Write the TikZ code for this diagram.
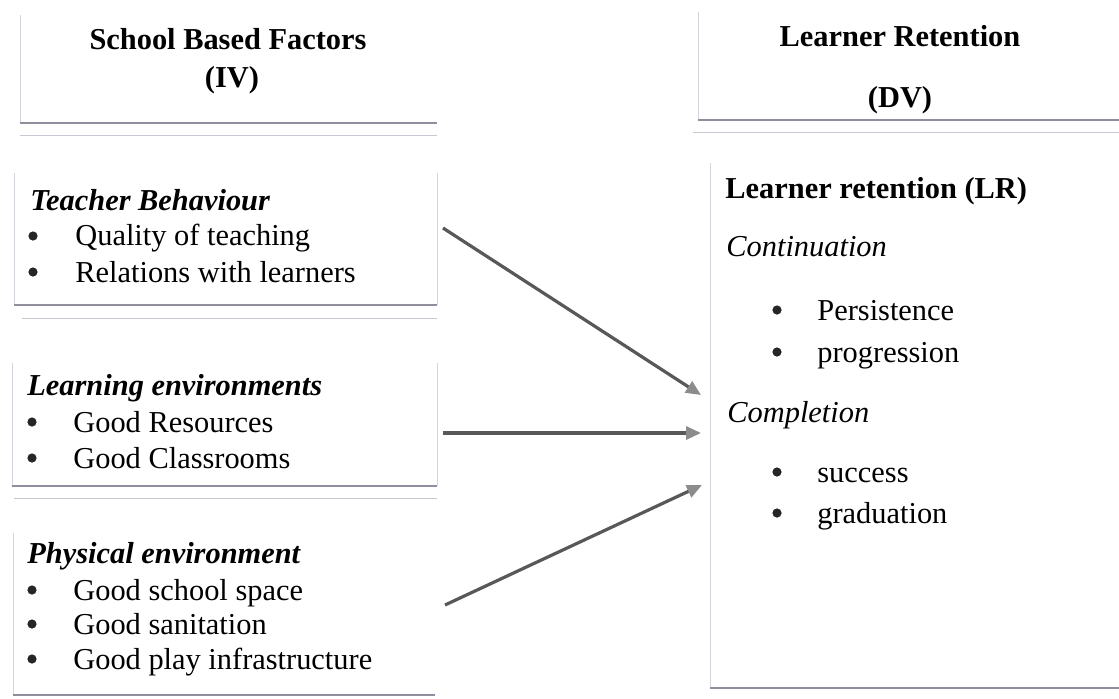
\documentclass[tikz,border=0pt]{standalone}
\usepackage{fontspec}
\setmainfont{Liberation Serif}
\usetikzlibrary{arrows.meta}
\definecolor{rulegray}{HTML}{8E8E9C}
\definecolor{shadegray}{HTML}{C8C8D2}
\definecolor{sidegray}{HTML}{D4D4DC}
\definecolor{arrowgray}{HTML}{585858}
\definecolor{tipgray}{HTML}{8C8C8C}

\begin{document}
\begin{tikzpicture}[x=0.5pt, y=-0.5pt,
		txt/.style={font=\fontsize{15.2}{18}\selectfont, inner sep=0pt},
		item/.style={txt, anchor=base west},
		title/.style={txt, anchor=base, font=\fontsize{15.2}{18}\selectfont\bfseries},
		group/.style={item, font=\fontsize{15.2}{18}\selectfont\bfseries\itshape},
		part/.style={item, font=\fontsize{15.2}{18}\selectfont\itshape},
		dot/.style={circle, fill=black!85, inner sep=0pt, minimum size=4.6pt},
		side/.style={draw=sidegray, line width=0.4pt},
		rule/.style={draw=rulegray, line width=0.9pt},
		shade/.style={draw=shadegray, line width=0.5pt},
		link/.style={draw=arrowgray, line width=1.6pt, -{Triangle[length=7.5pt,width=6.5pt,color=tipgray,fill=tipgray]}}]
		\useasboundingbox (0,0) rectangle (1119,698);

		% frames
		\draw[side] (20,15) -- (20,123);
		\draw[rule] (20,123) -- (437,123);
		\draw[shade] (20,135) -- (437,135);

		\draw[side] (698,12) -- (698,120);
		\draw[rule] (698,120) -- (1119,120);
		\draw[shade] (693,132) -- (1119,132);

		\draw[side] (14,173) -- (14,305);
		\draw[side] (437,173) -- (437,305);
		\draw[rule] (14,305) -- (437,305);
		\draw[shade] (22,318) -- (437,318);

		\draw[side] (12,363) -- (12,486);
		\draw[side] (437,363) -- (437,486);
		\draw[rule] (12,486) -- (437,486);
		\draw[shade] (14,498) -- (437,498);

		\draw[side] (13,533) -- (13,695);
		\draw[rule] (13,695) -- (435,695);

		\draw[side] (710,163) -- (710,688);
		\draw[rule] (710,688) -- (1119,688);

		% headers
		\node[title] (ivname) at (228,49) {School Based Factors};
		\node[title] (ivtag) at (232,87) {(IV)};
		\node[title] (dvname) at (900,46) {Learner Retention};
		\node[title] (dvtag) at (900,107) {(DV)};

		% independent variables
		\node[group] (teacher) at (30,210) {Teacher Behaviour};
		\node[dot] (tbdota) at (33,236) {};
		\node[item] (quality) at (75,245) {Quality of teaching};
		\node[dot] (tbdotb) at (33,272) {};
		\node[item] (relations) at (75,282) {Relations with learners};

		\node[group] (learning) at (27,395) {Learning environments};
		\node[dot] (ledota) at (32,422) {};
		\node[item] (resources) at (73,432) {Good Resources};
		\node[dot] (ledotb) at (32,458) {};
		\node[item] (classrooms) at (73,468) {Good Classrooms};

		\node[group] (physical) at (27,563) {Physical environment};
		\node[dot] (pedota) at (32,590) {};
		\node[item] (space) at (73,600) {Good school space};
		\node[dot] (pedotb) at (32,624) {};
		\node[item] (sanitation) at (73,634) {Good sanitation};
		\node[dot] (pedotc) at (32,659) {};
		\node[item] (play) at (73,669) {Good play infrastructure};

		% dependent variable
		\node[item, font=\fontsize{15.2}{18}\selectfont\bfseries] (lrname) at (725,198) {Learner retention (LR)};
		\node[part] (continuation) at (726,256) {Continuation};
		\node[dot] (lrdota) at (777,310) {};
		\node[item] (persistence) at (817,320) {Persistence};
		\node[dot] (lrdotb) at (777,352) {};
		\node[item] (progression) at (817,362) {progression};
		\node[part] (completion) at (727,422) {Completion};
		\node[dot] (lrdotc) at (777,472) {};
		\node[item] (success) at (817,482) {success};
		\node[dot] (lrdotd) at (777,513) {};
		\node[item] (graduation) at (817,523) {graduation};

		% links
		\coordinate (tbout) at (443,228);
		\coordinate (leout) at (443,433);
		\coordinate (peout) at (445,605);
		\coordinate (lrina) at (701,395);
		\coordinate (lrinb) at (701,433);
		\coordinate (lrinc) at (702,485);
		\draw[link] (tbout) -- (lrina);
		\draw[link] (leout) -- (lrinb);
		\draw[link] (peout) -- (lrinc);
	\end{tikzpicture}
\end{document}
